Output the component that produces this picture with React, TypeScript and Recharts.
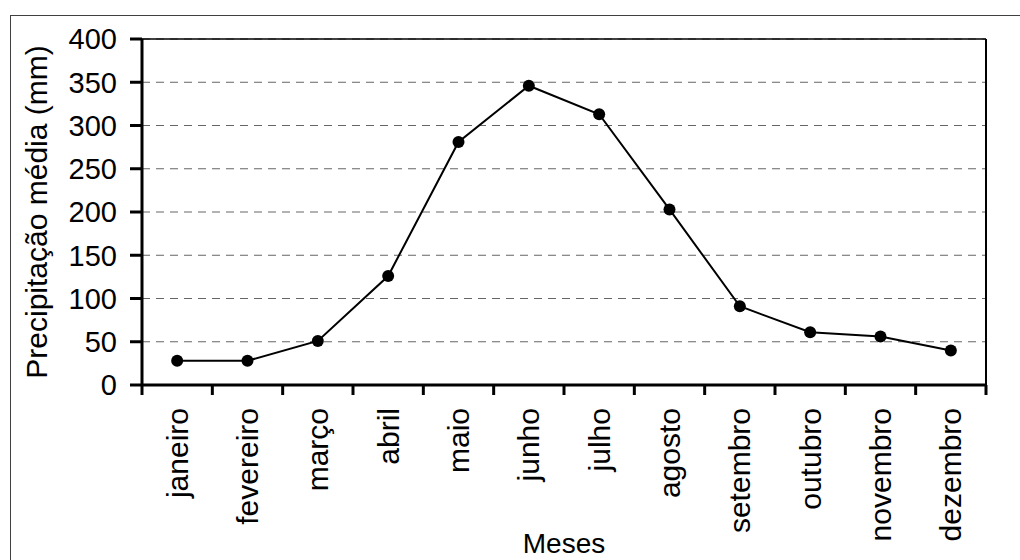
import { CartesianGrid, Line, LineChart, ReferenceLine, XAxis, YAxis } from 'recharts'

const months = [
  'janeiro',
  'fevereiro',
  'março',
  'abril',
  'maio',
  'junho',
  'julho',
  'agosto',
  'setembro',
  'outubro',
  'novembro',
  'dezembro',
]

// precipitação média mensal (mm)
const rainfall = [28, 28, 51, 126, 281, 346, 313, 203, 91, 61, 56, 40]

const yTicks = [0, 50, 100, 150, 200, 250, 300, 350, 400]

const FONT = '"Liberation Sans", Arial, sans-serif'

// months sit in the middle of each slot, tick marks go on the slot edges
const data = months.map((month, i) => ({ pos: i + 0.5, month, rainfall: rainfall[i] }))
const edgeTicks = [...months.map((_, i) => i), months.length]
const xTicks = [...edgeTicks, ...data.map((d) => d.pos)].sort((a, b) => a - b)

function MonthTick(props: any) {
  const { x, y, payload } = props
  const value = payload.value as number
  if (Number.isInteger(value)) {
    return <line x1={x} y1={y - 10} x2={x} y2={y} stroke="#000" strokeWidth={3} />
  }
  const ty = y + 13
  return (
    <text
      x={x}
      y={ty}
      dy="0.35em"
      textAnchor="end"
      transform={`rotate(-90, ${x}, ${ty})`}
      fontFamily={FONT}
      fontSize={30}
      fill="#000"
    >
      {months[Math.floor(value)]}
    </text>
  )
}

function YTitle(props: any) {
  const vb = props.viewBox ?? { x: 0, y: 39, width: 142, height: 346 }
  const x = vb.x + 47
  const y = vb.y + vb.height / 2
  return (
    <text
      x={x}
      y={y}
      textAnchor="middle"
      transform={`rotate(-90, ${x}, ${y})`}
      fontFamily={FONT}
      fontSize={30}
      fill="#000"
    >
      Precipitação média (mm)
    </text>
  )
}

function XTitle(props: any) {
  const vb = props.viewBox ?? { x: 142, y: 385, width: 844, height: 175 }
  return (
    <text
      x={vb.x + vb.width / 2}
      y={vb.y + vb.height - 7}
      textAnchor="middle"
      fontFamily={FONT}
      fontSize={28}
      fill="#000"
    >
      Meses
    </text>
  )
}

export default function App() {
  return (
    <div style={{ position: 'absolute', left: 0, top: 0, width: 1020, height: 560, background: '#fff' }}>
      <div
        style={{
          position: 'absolute',
          left: 10,
          top: 15,
          width: 1010,
          height: 545,
          boxSizing: 'border-box',
          borderLeft: '1.5px solid #404040',
          borderTop: '1.5px solid #404040',
        }}
      />
      <LineChart
        width={1020}
        height={560}
        data={data}
        margin={{ top: 39, right: 34, left: 0, bottom: 0 }}
        style={{ position: 'absolute', left: 0, top: 0 }}
      >
        <CartesianGrid vertical={false} stroke="#666" strokeDasharray="8 6" strokeWidth={1} />
        <XAxis
          dataKey="pos"
          type="number"
          domain={[0, 12]}
          ticks={xTicks}
          interval={0}
          allowDecimals
          height={175}
          tickSize={10}
          tickMargin={0}
          tickLine={false}
          axisLine={{ stroke: '#000', strokeWidth: 3 }}
          tick={(p: any) => <MonthTick {...p} />}
          label={<XTitle />}
        />
        <YAxis
          type="number"
          domain={[0, 400]}
          ticks={yTicks}
          interval={0}
          width={142}
          tickSize={12}
          tickMargin={13}
          axisLine={{ stroke: '#000', strokeWidth: 3 }}
          tickLine={{ stroke: '#000', strokeWidth: 3 }}
          tick={{ fill: '#000', fontSize: 29, fontFamily: FONT }}
          label={<YTitle />}
        />
        <ReferenceLine y={400} stroke="#000" strokeWidth={1.5} />
        <ReferenceLine x={12} stroke="#000" strokeWidth={2} />
        <Line
          dataKey="rainfall"
          type="linear"
          stroke="#000"
          strokeWidth={2}
          dot={{ r: 6, fill: '#000', stroke: 'none' }}
          activeDot={false}
          isAnimationActive={false}
        />
      </LineChart>
    </div>
  )
}
